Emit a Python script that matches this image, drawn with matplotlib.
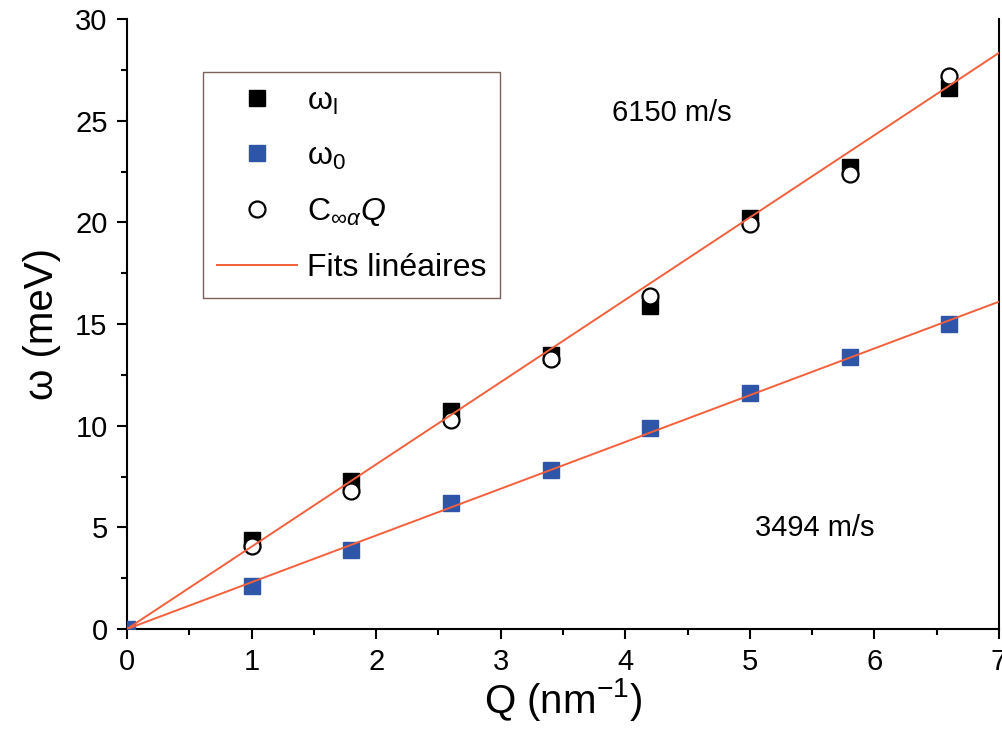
import matplotlib
matplotlib.use("Agg")
import matplotlib.pyplot as plt
from matplotlib.ticker import MultipleLocator
import numpy as np

plt.rcParams['font.family'] = ['Liberation Sans', 'DejaVu Sans']
plt.rcParams['mathtext.fontset'] = 'custom'
plt.rcParams['mathtext.rm'] = 'Liberation Sans'
plt.rcParams['mathtext.it'] = 'Liberation Sans:italic'
plt.rcParams['mathtext.bf'] = 'Liberation Sans:bold'

# Data
Q = [1.0, 1.8, 2.6, 3.4, 4.2, 5.0, 5.8, 6.6]
omega_l = [4.4, 7.3, 10.7, 13.5, 15.9, 20.2, 22.7, 26.6]
C_Q = [4.1, 6.8, 10.3, 13.3, 16.4, 19.9, 22.4, 27.2]
Q0 = [0.0, 1.0, 1.8, 2.6, 3.4, 4.2, 5.0, 5.8, 6.6]
omega_0 = [0.0, 2.1, 3.9, 6.2, 7.8, 9.9, 11.6, 13.4, 15.0]
velocities = [6150, 3494]  # m/s
hbar = 6.582e-13  # meV s
fit_x = [0.0, 7.0]

fig = plt.figure(figsize=(10.02, 7.36), dpi=100)
ax = fig.add_axes([127/1002, 1-629/736, 872/1002, 610/736])

blue = '#2f55a8'
orange = '#f2603c'

ax.plot(Q, omega_l, 's', color='black', ms=11, mec='black', zorder=3, label=r'ω$_{\mathrm{l}}$')
ax.plot(Q0, omega_0, 's', color=blue, ms=11, mec=blue, zorder=3, label=r'ω$_{\mathrm{0}}$')
ax.plot(Q, C_Q, 'o', mfc='white', mec='black', mew=1.6, ms=11.5, zorder=4, label=r'C$_{\infty\alpha}\mathit{Q}$')
for i, v in enumerate(velocities):
    slope = hbar * v * 1e9  # meV nm
    xs = np.array(fit_x)
    ax.plot(xs, slope * xs, '-', color=orange, lw=1.4, zorder=5,
            label='Fits linéaires' if i == 0 else None)

ax.set_xlim(0, 7)
ax.set_ylim(0, 30)
ax.xaxis.set_major_locator(MultipleLocator(1))
ax.xaxis.set_minor_locator(MultipleLocator(0.5))
ax.yaxis.set_major_locator(MultipleLocator(5))
ax.yaxis.set_minor_locator(MultipleLocator(2.5))

for s in ['left', 'bottom', 'right']:
    ax.spines[s].set_linewidth(1.5)
ax.spines['top'].set_visible(False)
ax.tick_params(which='major', direction='out', length=7, width=1.5, labelsize=21, pad=7)
ax.tick_params(which='minor', direction='out', length=4, width=1.5)
ax.tick_params(axis='y', right=False)

ax.set_xlabel(r'Q (nm$^{\mathregular{-1}}$)', fontsize=29, labelpad=0)
ax.set_ylabel('ω (meV)', fontsize=29, labelpad=10)

ax.text(3.89, 25.4, '6150 m/s', fontsize=21, va='center', ha='left')
ax.text(5.04, 4.97, '3494 m/s', fontsize=21, va='center', ha='left')

leg = ax.legend(loc='upper left', bbox_to_anchor=(0.087, 0.913), borderaxespad=0,
                fontsize=23, frameon=True, fancybox=False, handlelength=2.5,
                handletextpad=0.3, labelspacing=0.78, borderpad=0.45, numpoints=1)
leg.get_frame().set_edgecolor('#5a3a30')
leg.get_frame().set_linewidth(1.0)

fig.savefig('out.png', dpi=100)
